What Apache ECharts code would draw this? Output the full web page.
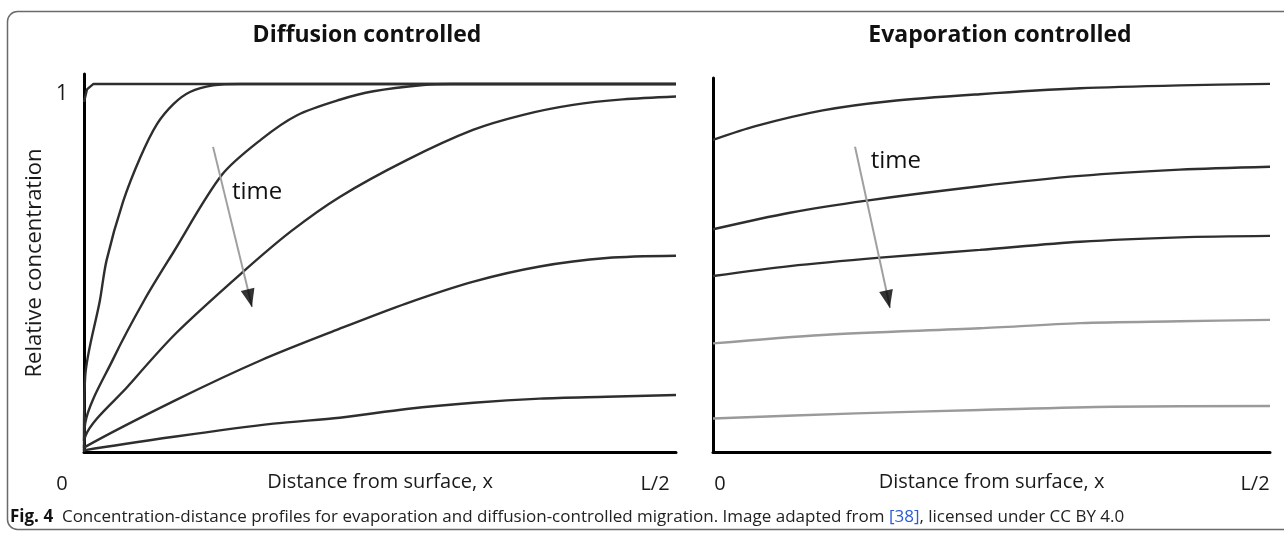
<!DOCTYPE html>
<html>
<head>
<meta charset="utf-8">
<script src="https://cdn.jsdelivr.net/npm/echarts@6/dist/echarts.min.js"></script>
<style>
  html, body { margin: 0; padding: 0; background: #fff; }
  #chart { width: 1284px; height: 536px; }
</style>
</head>
<body>
<div id="chart"></div>
<script>
// ---------- data (x in % of L/2, y = relative concentration) ----------
const panelTitles = ['Diffusion controlled', 'Evaporation controlled'];
const xAxisName = 'Distance from surface, x';
const yAxisName = 'Relative concentration';
const xTickLabels = ['0', 'L/2'];
const yTickLabels = ['1'];
const arrowText = 'time';

// Diffusion controlled profiles (earliest to latest)
const diff1 = [[0, 0.951], [0.5, 0.985], [1.6, 1.0], [100, 1.0]];
const diff2 = [[0, 0.03], [0.2, 0.205], [2.7, 0.413], [3.8, 0.52], [6.6, 0.68], [9.5, 0.80], [12.3, 0.89], [15.1, 0.945], [17.9, 0.978], [21.8, 0.996], [26.4, 1.0], [100, 1.0]];
const diff3 = [[0, 0.01], [0.2, 0.078], [5, 0.255], [10.2, 0.413], [15, 0.54], [23.3, 0.753], [30, 0.85], [36, 0.915], [43.2, 0.957], [48.9, 0.98], [57.3, 0.997], [62, 1.0], [100, 1.0]];
const diff4 = [[0, 0.005], [0.2, 0.042], [7.5, 0.18], [15.5, 0.322], [26.9, 0.49], [35, 0.6], [43.2, 0.693], [54.5, 0.793], [65.7, 0.875], [74.2, 0.916], [82.6, 0.943], [91, 0.958], [100, 0.966]];
const diff5 = [[0, 0.002], [0.2, 0.014], [15.5, 0.141], [30, 0.25], [43.2, 0.335], [54.5, 0.404], [65.8, 0.463], [77, 0.504], [88.3, 0.527], [100, 0.533]];
const diff6 = [[0, 0.001], [0.2, 0.005], [15.5, 0.042], [32, 0.077], [43.2, 0.093], [54.5, 0.117], [65.8, 0.134], [77, 0.145], [88.3, 0.15], [100, 0.155]];

// Evaporation controlled profiles (earliest to latest)
const evap1 = [[0, 0.848], [7.8, 0.886], [19.7, 0.928], [31.7, 0.953], [47.9, 0.972], [65.9, 0.988], [83.8, 0.996], [100, 1.0]];
const evap2 = [[0, 0.605], [13.8, 0.65], [27.6, 0.683], [47.9, 0.722], [65.9, 0.75], [83.8, 0.767], [100, 0.775]];
const evap3 = [[0, 0.478], [13.8, 0.505], [30, 0.528], [47.9, 0.549], [65.9, 0.571], [83.8, 0.583], [100, 0.587]];
const evap4 = [[0, 0.295], [19.7, 0.318], [47.9, 0.336], [65.9, 0.35], [83.8, 0.355], [100, 0.359]];
const evap5 = [[0, 0.091], [25.7, 0.105], [47.9, 0.114], [71.8, 0.123], [100, 0.125]];

// "time" arrows: [start, tip], head centre, label anchor
const arrowDiff = [[21.8, 0.829], [28.4, 0.394]];
const arrowDiffHead = [[28.0, 0.418]];
const arrowDiffLabel = [[25.0, 0.707]];
const arrowEvap = [[25.5, 0.829], [31.8, 0.391]];
const arrowEvapHead = [[31.4, 0.415]];
const arrowEvapLabel = [[28.3, 0.789]];

// ---------- chart ----------
const FONT = '"Open Sans", "Noto Sans", sans-serif';
const DARK = '#2e2e2e';
const LIGHT = '#9a9a9a';

function curve(data, idx, color, smooth) {
  return {
    type: 'line', xAxisIndex: idx, yAxisIndex: idx, data: data,
    showSymbol: false, symbol: 'none', silent: true,
    smooth: smooth === undefined ? 0.3 : smooth,
    lineStyle: { color: color, width: 2.4 }, z: 3
  };
}
function arrowSeries(line, head, label, idx, rot) {
  return [
    { type: 'line', xAxisIndex: idx, yAxisIndex: idx, data: line, showSymbol: false, symbol: 'none',
      lineStyle: { color: '#a0a0a0', width: 2 }, silent: true, z: 4 },
    { type: 'scatter', xAxisIndex: idx, yAxisIndex: idx, data: head, symbol: 'triangle',
      symbolSize: [14, 18], symbolRotate: rot, itemStyle: { color: '#000' }, silent: true, z: 5 },
    { type: 'scatter', xAxisIndex: idx, yAxisIndex: idx, data: label, symbolSize: 0, silent: true, z: 5,
      itemStyle: { opacity: 1 },
      label: { show: true, position: 'right', distance: 0, formatter: arrowText,
               fontFamily: FONT, fontSize: 24, color: '#111' } }
  ];
}

const axisLine = { show: true, onZero: false, lineStyle: { color: '#000', width: 3 } };

const chart = echarts.init(document.getElementById('chart'), null, { renderer: 'canvas' });
chart.setOption({
  backgroundColor: '#fff',
  animation: false,
  grid: [
    { left: 84, top: 74, width: 592, height: 378 },
    { left: 713, top: 78, width: 557, height: 374 }
  ],
  xAxis: [0, 1].map(i => ({
    type: 'value', gridIndex: i, min: 0, max: 100,
    axisLine: axisLine, axisTick: { show: false }, axisLabel: { show: false }, splitLine: { show: false },
    name: xAxisName, nameLocation: 'middle', nameGap: 20,
    nameTextStyle: { fontFamily: FONT, fontSize: 20, color: '#1a1a1a' }
  })),
  yAxis: [
    { type: 'value', gridIndex: 0, min: 0, max: 1.027,
      axisLine: axisLine, axisTick: { show: false }, splitLine: { show: false },
      axisLabel: { show: true, customValues: [1], formatter: () => yTickLabels[0], margin: 16,
                   fontFamily: FONT, fontSize: 21, color: '#1a1a1a', verticalAlign: 'top' },
      name: yAxisName, nameLocation: 'middle', nameGap: 38, nameRotate: 90,
      nameTextStyle: { fontFamily: FONT, fontSize: 22, color: '#1a1a1a' } },
    { type: 'value', gridIndex: 1, min: 0, max: 1.016,
      axisLine: axisLine, axisTick: { show: false }, splitLine: { show: false }, axisLabel: { show: false } }
  ],
  graphic: [
    { type: 'rect', shape: { x: 7.5, y: 11.5, width: 1300, height: 518, r: 10 }, silent: true,
      style: { fill: 'none', stroke: '#6a6a6a', lineWidth: 1.5 }, z: -1 },
    { type: 'text', x: 367, y: 35, silent: true,
      style: { text: panelTitles[0], fontFamily: FONT, fontWeight: 'bold', fontSize: 23, fill: '#111',
               textAlign: 'center', textVerticalAlign: 'middle' } },
    { type: 'text', x: 1000, y: 35, silent: true,
      style: { text: panelTitles[1], fontFamily: FONT, fontWeight: 'bold', fontSize: 23, fill: '#111',
               textAlign: 'center', textVerticalAlign: 'middle' } },
    { type: 'text', x: 62, y: 484, silent: true,
      style: { text: xTickLabels[0], fontFamily: FONT, fontSize: 20, fill: '#1a1a1a', textAlign: 'center', textVerticalAlign: 'middle' } },
    { type: 'text', x: 655, y: 484, silent: true,
      style: { text: xTickLabels[1], fontFamily: FONT, fontSize: 20, fill: '#1a1a1a', textAlign: 'center', textVerticalAlign: 'middle' } },
    { type: 'text', x: 720, y: 484, silent: true,
      style: { text: xTickLabels[0], fontFamily: FONT, fontSize: 20, fill: '#1a1a1a', textAlign: 'center', textVerticalAlign: 'middle' } },
    { type: 'text', x: 1255, y: 484, silent: true,
      style: { text: xTickLabels[1], fontFamily: FONT, fontSize: 20, fill: '#1a1a1a', textAlign: 'center', textVerticalAlign: 'middle' } },
    { type: 'text', x: 10, y: 517, silent: true,
      style: {
        text: '{b|Fig. 4}  Concentration-distance profiles for evaporation and diffusion-controlled migration. Image adapted from {l|[38]}, licensed under CC BY 4.0',
        fontFamily: FONT, fontSize: 17, fill: '#222', textVerticalAlign: 'middle',
        rich: {
          b: { fontFamily: FONT, fontSize: 17, fontWeight: 'bold', fill: '#111' },
          l: { fontFamily: FONT, fontSize: 17, fill: '#2a5bd7' }
        }
      } }
  ],
  series: [
    curve(diff1, 0, DARK, false),
    curve(diff2, 0, DARK),
    curve(diff3, 0, DARK),
    curve(diff4, 0, DARK),
    curve(diff5, 0, DARK),
    curve(diff6, 0, DARK),
    curve(evap1, 1, DARK),
    curve(evap2, 1, DARK),
    curve(evap3, 1, DARK),
    curve(evap4, 1, LIGHT),
    curve(evap5, 1, LIGHT),
    ...arrowSeries(arrowDiff, arrowDiffHead, arrowDiffLabel, 0, 193.7),
    ...arrowSeries(arrowEvap, arrowEvapHead, arrowEvapLabel, 1, 192.3)
  ]
});
</script>
</body>
</html>
